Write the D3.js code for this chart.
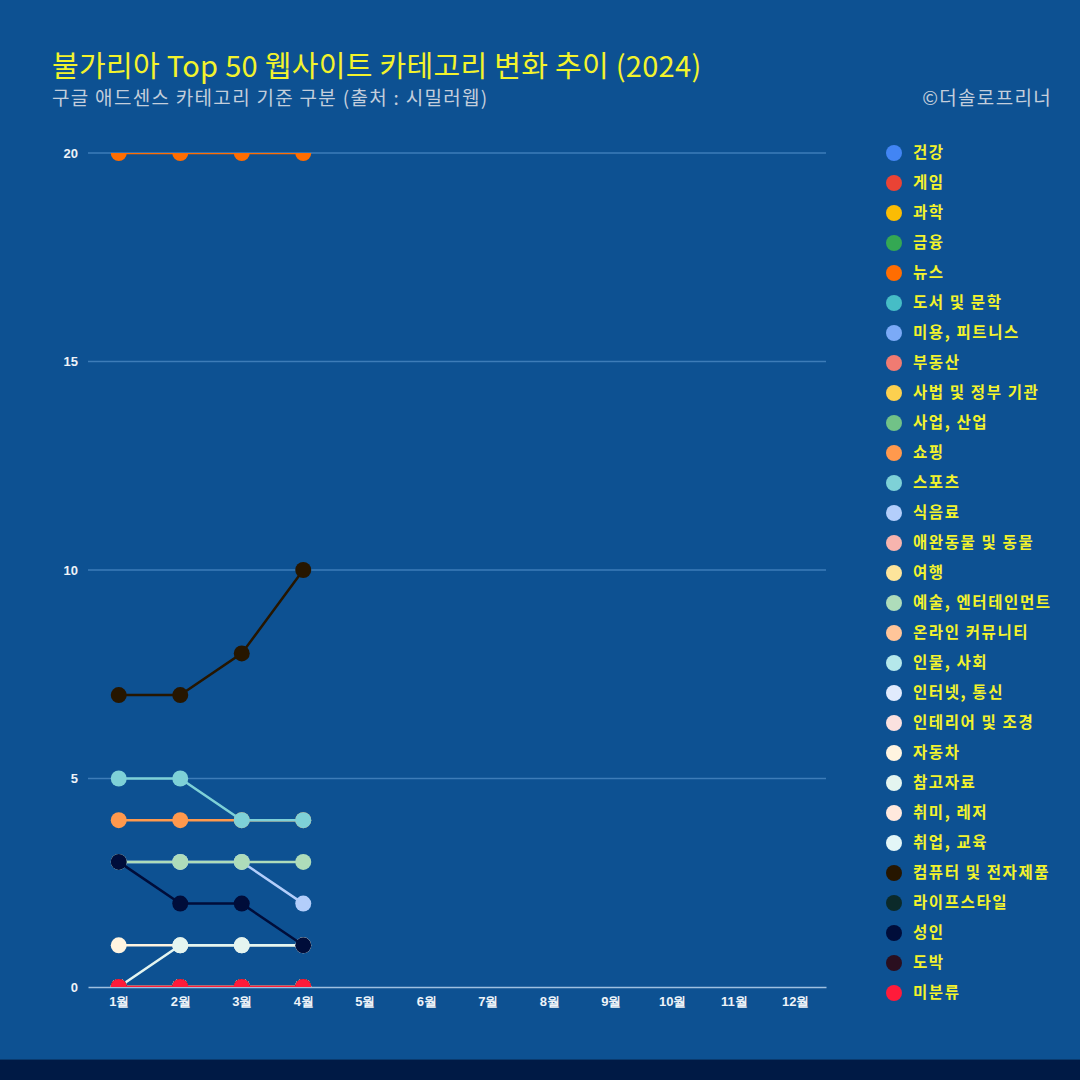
<!DOCTYPE html>
<html>
<head>
<meta charset="utf-8">
<script src="https://cdn.jsdelivr.net/npm/d3@7"></script>
<style>
  html, body { margin: 0; padding: 0; background: #0d5192; }
  svg { display: block; font-family: "Noto Sans CJK KR", "Noto Sans", sans-serif; }
</style>
</head>
<body>
<div id="chart"></div>
<script>
// months on the x axis
var months = ["1월","2월","3월","4월","5월","6월","7월","8월","9월","10월","11월","12월"];
var yTicks = [0, 5, 10, 15, 20];

var categories = ["건강","게임","과학","금융","뉴스","도서 및 문학","미용, 피트니스","부동산",
  "사법 및 정부 기관","사업, 산업","쇼핑","스포츠","식음료","애완동물 및 동물","여행",
  "예술, 엔터테인먼트","온라인 커뮤니티","인물, 사회","인터넷, 통신","인테리어 및 조경",
  "자동차","참고자료","취미, 레저","취업, 교육","컴퓨터 및 전자제품","라이프스타일","성인","도박","미분류"];

var colors = ["#4285f4","#ea4335","#fbbc04","#34a853","#ff6d01","#46bdc6","#7baaf7","#f07b72",
  "#fcd04f","#71c287","#ff994d","#7ed1d7","#b3cefb","#f7b4ae","#fde49b",
  "#aedcba","#ffc599","#b5e8eb","#e1ebfd","#fbe1df",
  "#fff4e0","#e4f5f0","#ffe9dd","#e3f6f7","#261600","#0b2a2a","#000d3a","#2a0f1f","#ff1b3a"];

// values for Jan-Apr, same order as categories
var values = [
  [0,0,0,0],    // 건강
  [0,0,0,0],    // 게임
  [0,0,0,0],    // 과학
  [0,0,0,0],    // 금융
  [20,20,20,20],// 뉴스
  [0,0,0,0],    // 도서 및 문학
  [0,0,0,0],    // 미용, 피트니스
  [0,0,0,0],    // 부동산
  [0,0,0,0],    // 사법 및 정부 기관
  [0,0,0,0],    // 사업, 산업
  [4,4,4,4],    // 쇼핑
  [5,5,4,4],    // 스포츠
  [3,3,3,2],    // 식음료
  [0,0,0,0],    // 애완동물 및 동물
  [0,0,0,0],    // 여행
  [3,3,3,3],    // 예술, 엔터테인먼트
  [0,0,0,0],    // 온라인 커뮤니티
  [0,0,0,0],    // 인물, 사회
  [0,0,0,0],    // 인터넷, 통신
  [0,0,0,0],    // 인테리어 및 조경
  [1,1,1,1],    // 자동차
  [0,1,1,1],    // 참고자료
  [0,0,0,0],    // 취미, 레저
  [0,0,0,0],    // 취업, 교육
  [7,7,8,10],   // 컴퓨터 및 전자제품
  [0,0,0,0],    // 라이프스타일
  [3,2,2,1],    // 성인
  [0,0,0,0],    // 도박
  [0,0,0,0]     // 미분류
];

var svgWidth = 1080, svgHeight = 1080;
var plot = {left: 88, right: 826, top: 153, bottom: 987};

var svg = d3.select("#chart").append("svg")
  .attr("width", svgWidth)
  .attr("height", svgHeight);

svg.append("rect").attr("width", svgWidth).attr("height", svgHeight).attr("fill", "#0d5192");
svg.append("rect").attr("y", 1060).attr("width", svgWidth).attr("height", 20).attr("fill", "#001a45");
svg.append("rect").attr("y", 1059).attr("width", svgWidth).attr("height", 1).attr("fill", "#0a3a6e");

// titles
svg.append("text").attr("x", 52).attr("y", 77)
  .attr("fill", "#f3f32c").style("font-size", "29px").style("letter-spacing", "0.3px")
  .text("불가리아 Top 50 웹사이트 카테고리 변화 추이 (2024)");
svg.append("text").attr("x", 52).attr("y", 105)
  .attr("fill", "#c3cedc").style("font-size", "19px").style("letter-spacing", "1.3px")
  .text("구글 애드센스 카테고리 기준 구분 (출처 : 시밀러웹)");
svg.append("text").attr("x", 1052).attr("y", 105).attr("text-anchor", "end")
  .attr("fill", "#c3cedc").style("font-size", "19px").style("letter-spacing", "1.3px")
  .text("©더솔로프리너");

var x = d3.scalePoint().domain(months).range([plot.left, plot.right]).padding(0.5);
var y = d3.scaleLinear().domain([0, 20]).range([plot.bottom, plot.top]);

// grid
svg.append("g").selectAll("line").data(yTicks.filter(d => d > 0)).enter().append("line")
  .attr("x1", plot.left).attr("x2", plot.right)
  .attr("y1", d => y(d)).attr("y2", d => y(d))
  .attr("stroke", "#3d7cb8").attr("stroke-width", 1.5);

var yAxis = svg.append("g").attr("transform", `translate(${plot.left},0)`)
  .call(d3.axisLeft(y).tickValues(yTicks).tickSize(0).tickPadding(10));
yAxis.select(".domain").remove();
yAxis.selectAll("text").attr("fill", "#eef3f8").style("font-size", "13px").style("font-weight", "bold")
  .style("font-family", "'Liberation Sans', Arial, sans-serif");

var xAxis = svg.append("g").attr("transform", `translate(0,${plot.bottom})`)
  .call(d3.axisBottom(x).tickSize(0).tickPadding(10));
xAxis.select(".domain").attr("stroke", "#9fc0e0").attr("stroke-width", 1.5);
xAxis.selectAll("text").attr("fill", "#eef3f8").style("font-size", "13px").style("font-weight", "bold");

// clip to plot
svg.append("clipPath").attr("id", "plotClip").append("rect")
  .attr("x", 0).attr("y", plot.top).attr("width", svgWidth).attr("height", plot.bottom - plot.top);

var series = categories.map((c, i) => ({name: c, color: colors[i], vals: values[i]}));
var line = d3.line().x((d, i) => x(months[i])).y(d => y(d));

var seriesG = svg.append("g").attr("clip-path", "url(#plotClip)")
  .selectAll("g").data(series).enter().append("g");

seriesG.append("path")
  .attr("d", d => line(d.vals))
  .attr("fill", "none")
  .attr("stroke", d => d.color)
  .attr("stroke-width", 2.5);

seriesG.selectAll("circle").data(d => d.vals.map(v => ({v: v, color: d.color}))).enter()
  .append("circle")
  .attr("cx", (d, i) => x(months[i]))
  .attr("cy", d => y(d.v))
  .attr("r", 8)
  .attr("fill", d => d.color);

// legend
var legend = svg.append("g").selectAll("g").data(series).enter().append("g")
  .attr("transform", (d, i) => `translate(894,${153 + i * 30})`);
legend.append("circle").attr("r", 8).attr("fill", d => d.color);
legend.append("text").attr("x", 19).attr("dy", "0.35em")
  .attr("fill", "#f3f32c").style("font-size", "15.5px").style("font-weight", "bold")
  .style("letter-spacing", "1.6px")
  .text(d => d.name);
</script>
</body>
</html>
